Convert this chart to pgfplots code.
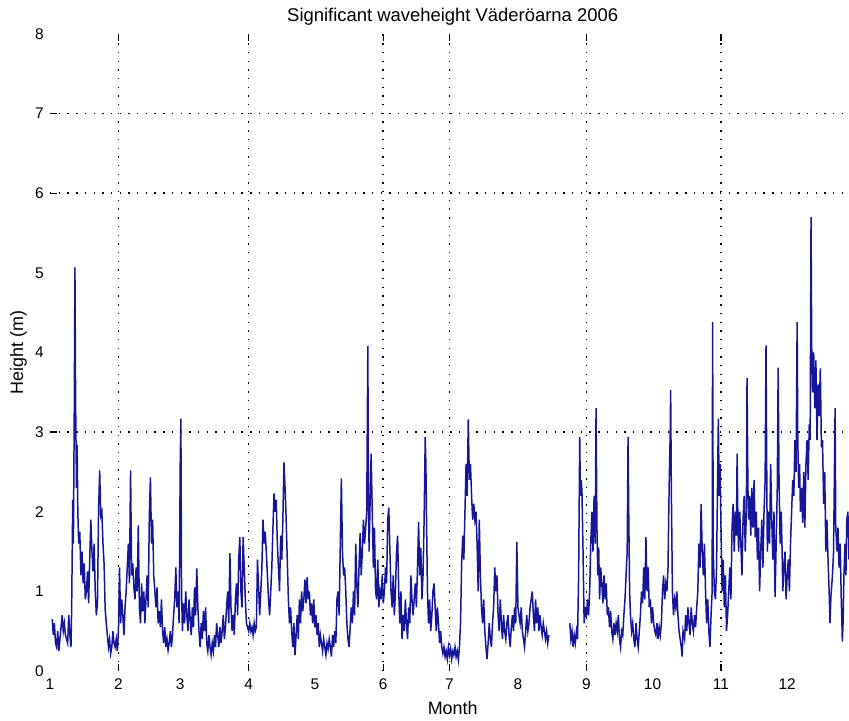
\documentclass[border=0pt]{standalone}
\usepackage{fontspec}
\setmainfont{Liberation Sans}
\usepackage{pgfplots}
\pgfplotsset{compat=1.18}
\definecolor{wblue}{RGB}{22,22,155}

\begin{document}
\begin{tikzpicture}
\begin{axis}[
    scale only axis,
    width=799bp, height=637bp,
    xmin=0, xmax=362, ymin=0, ymax=8,
    separate axis lines,
    axis line style={draw=none},
    xtick={0,31,59,90,120,151,181,212,243,273,304,334},
    xticklabels={1,2,3,4,5,6,7,8,9,10,11,12},
    ytick={0,1,2,3,4,5,6,7,8},
    major tick length=0pt,
    extra x ticks={31,90,151,181,243,304},
    extra x tick labels={},
    extra y ticks={3,6,7},
    extra y tick labels={},
    extra tick style={grid=major, major tick length=7bp, tick style={black, line width=1.3bp}},
    ytick pos=left,
    grid style={black, line width=1.6bp, dash pattern=on 1.4bp off 7.3bp},
    /pgf/number format/assume math mode=true,
    tick label style={font=\fontsize{15.5}{18}\selectfont, inner sep=0pt},
    xticklabel style={yshift=-8bp},
    yticklabel style={xshift=-6bp},
    xlabel={Month},
    ylabel={Height (m)},
    label style={font=\fontsize{18}{21}\selectfont, inner sep=0pt},
    xlabel style={at={(axis description cs:0.504,0)}, anchor=north, yshift=-30bp},
    ylabel style={at={(axis description cs:-0.0288,0.5)}, anchor=south},
    title={Significant waveheight Väderöarna 2006},
    title style={font=\fontsize{18.5}{21}\selectfont, inner sep=0pt, at={(axis description cs:0.504,1)}, anchor=south, yshift=2bp},
]
\addplot[color=wblue, line width=1.5pt, unbounded coords=jump] coordinates {
(1,0.65)(1.5,0.45)(2,0.6)(2.5,0.35)(3,0.3)(3.5,0.5)(4,0.25)(4.5,0.4)(5,0.55)(5.5,0.7)(6,0.5)(6.5,0.6)(7,0.45)(7.5,0.4)(8,0.35)(8.5,0.7)(9,0.45)(9.5,0.3)(9.8,0.77)(10,1.3)(10.3,2.15)(10.6,1.6)(11,3.3)(11.3,5.07)(11.6,3.4)(12,2.3)(12.3,2.84)(12.6,2.0)(13,1.6)(13.5,1.75)(14,1.2)(14.5,1.5)(15,1.1)(15.5,1.35)(16,0.9)(16.5,1.0)(17,1.25)(17.5,0.85)(18,1.4)(18.5,1.9)(19,1.5)(19.5,1.25)(20,1.6)(20.5,1.0)(21,0.7)(21.5,0.85)(22,2.0)(22.5,2.52)(23,1.95)(23.5,2.0)(24,1.6)(24.5,1.35)(25,0.77)(25.5,0.6)(26,0.45)(26.5,0.3)(27,0.4)(27.5,0.22)(28,0.3)(28.5,0.5)(29,0.35)(29.5,0.3)(30,0.4)(30.5,0.25)(31,0.5)
(31.5,1.3)(32,0.6)(32.5,0.9)(33,0.7)(33.5,0.45)(34,0.8)(34.5,1.0)(35,1.3)(35.5,1.6)(36,1.1)(36.5,2.52)(37,1.2)(37.5,1.35)(38,1.05)(38.5,0.9)(39,1.3)(39.5,1.0)(40,1.83)(40.5,0.8)(41,0.6)(41.5,1.1)(42,0.75)(42.5,1.0)(43,0.6)(43.5,0.9)(44,1.2)(44.5,0.8)(45,1.95)(45.5,2.43)(46,1.6)(46.5,1.9)(47,1.2)(47.5,1.0)(48,0.8)(48.5,1.05)(49,0.6)(49.5,0.75)(50,0.55)(50.5,0.9)(51,0.5)(51.5,0.35)(52,0.55)(52.5,0.3)(53,0.4)(53.5,0.26)(54,0.35)(54.5,0.5)(55,0.3)(55.5,0.45)(56,0.7)(56.5,0.9)(57,1.3)(57.5,0.8)(58,1.0)(58.5,0.6)(59,2.6)(59.3,3.17)(59.6,1.0)
(60,0.5)(60.5,0.85)(61,0.6)(61.5,1.0)(62,0.7)(62.5,0.5)(63,0.9)(63.5,0.65)(64,0.45)(64.5,0.8)(65,0.55)(65.5,1.05)(66,0.7)(66.5,1.29)(67,0.8)(67.5,0.5)(68,0.3)(68.5,0.6)(69,0.4)(69.5,0.75)(70,0.5)(70.5,0.8)(71,0.35)(71.5,0.25)(72,0.45)(72.5,0.3)(73,0.2)(73.5,0.35)(74,0.25)(74.5,0.45)(75,0.3)(75.5,0.6)(76,0.45)(76.5,0.3)(77,0.55)(77.5,0.35)(78,0.5)(78.5,0.7)(79,0.4)(79.5,0.55)(80,0.8)(80.5,1.0)(81,0.6)(81.5,1.48)(82,0.8)(82.5,0.5)(83,0.7)(83.5,0.45)(84,0.9)(84.5,1.1)(85,0.7)(85.5,1.4)(86,1.68)(86.5,1.0)(87,0.8)(87.5,1.68)(88,1.3)(88.5,0.9)(89,0.6)(89.5,0.55)(90,0.5)
(90.5,0.6)(91,0.5)(91.5,0.55)(92,0.45)(92.5,0.6)(93,0.5)(93.5,0.55)(94,1.4)(94.5,1.05)(95,0.7)(95.5,1.0)(96,1.3)(96.5,1.9)(97,1.6)(97.5,1.75)(98,1.5)(98.5,1.2)(99,0.9)(99.5,0.7)(100,1.0)(100.5,1.3)(101,1.8)(101.5,2.23)(102,2.0)(102.5,2.15)(103,1.6)(103.5,1.3)(104,1.0)(104.5,1.7)(105,1.4)(105.5,1.9)(106,2.62)(106.5,2.3)(107,1.9)(107.5,1.4)(108,0.9)(108.5,0.6)(109,0.8)(109.5,0.5)(110,0.3)(110.5,0.6)(111,0.2)(111.5,0.45)(112,0.7)(112.5,0.4)(113,0.9)(113.5,0.6)(114,1.0)(114.5,0.75)(115,0.9)(115.5,1.15)(116,0.85)(116.5,1.18)(117,0.9)(117.5,1.0)(118,0.7)(118.5,0.85)(119,0.6)(119.5,0.9)(120,0.55)
(120.5,0.7)(121,0.45)(121.5,0.6)(122,0.3)(122.5,0.45)(123,0.35)(123.5,0.25)(124,0.4)(124.5,0.3)(125,0.2)(125.5,0.35)(126,0.28)(126.5,0.4)(127,0.3)(127.5,0.18)(128,0.45)(128.5,0.3)(129,0.5)(129.5,0.35)(130,0.9)(130.5,1.0)(131,0.7)(131.5,1.55)(132,2.42)(132.5,1.5)(133,1.2)(133.5,1.3)(134,1.0)(134.5,0.6)(135,0.4)(135.5,0.3)(136,0.55)(136.5,0.8)(137,0.6)(137.5,1.0)(138,0.7)(138.5,1.6)(139,1.1)(139.5,0.8)(140,1.3)(140.5,1.73)(141,1.2)(141.5,1.5)(142,1.9)(142.5,1.6)(143,1.8)(143.5,2.0)(144,4.08)(144.3,2.0)(144.6,1.5)(145,2.1)(145.5,2.73)(146,2.0)(146.5,1.3)(147,1.8)(147.5,1.0)(148,0.9)(148.5,1.4)(149,0.8)(149.5,1.0)(150,0.9)(150.5,1.2)(151,0.85)
(151.5,1.0)(152,1.3)(152.5,1.1)(153,1.9)(153.5,2.05)(154,1.5)(154.5,1.0)(155,0.8)(155.5,1.2)(156,0.7)(156.5,1.0)(157,1.5)(157.5,1.7)(158,1.0)(158.5,0.6)(159,1.0)(159.5,0.4)(160,0.7)(160.5,0.5)(161,0.9)(161.5,0.6)(162,0.4)(162.5,0.8)(163,0.6)(163.5,1.2)(164,0.9)(164.5,0.7)(165,0.9)(165.5,1.1)(166,0.8)(166.5,1.3)(167,1.87)(167.5,1.2)(168,1.55)(168.5,0.9)(169,1.2)(169.5,1.9)(170,2.94)(170.3,2.6)(170.6,1.9)(171,1.0)(171.5,0.6)(172,0.9)(172.5,0.5)(173,0.7)(173.5,1.0)(174,1.1)(174.5,0.8)(175,0.5)(175.5,0.8)(176,0.6)(176.5,0.35)(177,0.5)(177.5,0.3)(178,0.22)(178.5,0.3)(179,0.18)(179.5,0.25)(180,0.15)(180.5,0.3)(181,0.2)
(181.5,0.28)(182,0.15)(182.5,0.25)(183,0.2)(183.5,0.3)(184,0.18)(184.5,0.25)(185,0.14)(185.5,0.3)(186,0.6)(186.5,1.35)(187,1.7)(187.5,1.4)(188,2.0)(188.5,2.6)(189,2.2)(189.5,3.16)(190,2.4)(190.5,2.6)(191,2.2)(191.5,1.9)(192,2.1)(192.5,1.9)(193,2.0)(193.5,1.6)(194,1.0)(194.5,1.9)(195,1.2)(195.5,0.8)(196,0.6)(196.5,0.9)(197,0.5)(197.5,0.3)(198,0.15)(198.5,0.35)(199,0.6)(199.5,0.4)(200,0.3)(200.5,0.6)(201,0.8)(201.5,1.3)(202,1.0)(202.5,1.2)(203,0.7)(203.5,0.5)(204,0.9)(204.5,0.6)(205,0.4)(205.5,0.7)(206,0.5)(206.5,0.4)(207,0.6)(207.5,0.7)(208,0.45)(208.5,0.3)(209,0.55)(209.5,0.7)(210,0.5)(210.5,0.8)(211,0.6)(211.5,1.62)(212,0.8)
(212.5,0.7)(213,0.6)(213.5,0.8)(214,0.5)(214.5,0.4)(215,0.3)(215.5,0.5)(216,0.7)(216.5,0.5)(217,0.6)(217.5,0.8)(218,0.9)(218.5,1.0)(219,0.7)(219.5,0.5)(220,0.9)(220.5,0.6)(221,0.8)(221.5,0.5)(222,0.7)(222.5,0.55)(223,0.45)(223.5,0.6)(224,0.5)(224.5,0.4)(225,0.5)(225.5,0.35)(226,0.45)(226.5,nan)
(235.5,0.6)(236,0.4)(236.5,0.5)(237,0.3)(237.5,0.45)(238,0.35)(238.5,0.5)(239,0.4)(239.5,1.2)(240,2.94)(240.3,2.2)(240.6,2.4)(241,2.27)(241.5,1.5)(242,0.6)(242.5,0.8)(243,0.68)
(243.5,0.9)(244,0.7)(244.5,1.0)(245,1.6)(245.5,2.0)(246,1.5)(246.5,2.2)(247,1.6)(247.4,3.3)(247.8,1.8)(248.2,1.2)(248.6,1.55)(249,0.9)(249.5,1.3)(250,1.1)(250.5,0.85)(251,1.2)(251.5,0.9)(252,1.1)(252.5,0.7)(253,0.8)(253.5,0.55)(254,0.75)(254.5,0.5)(255,0.4)(255.5,0.6)(256,0.45)(256.5,0.6)(257,0.5)(257.5,0.7)(258,0.4)(258.5,0.3)(259,0.5)(259.5,0.45)(260,0.7)(260.5,0.9)(261,1.2)(261.5,1.5)(261.9,2.94)(262.2,2.0)(262.6,1.0)(263,0.7)(263.5,0.5)(264,0.6)(264.5,0.4)(265,0.3)(265.5,0.6)(266,0.4)(266.5,0.3)(267,0.5)(267.5,0.7)(268,1.0)(268.5,0.85)(269,1.3)(269.5,0.9)(270,1.68)(270.5,1.0)(271,1.3)(271.5,0.8)(272,0.9)(272.5,0.6)(273,0.8)
(273.5,0.6)(274,0.5)(274.5,0.45)(275,0.6)(275.5,0.4)(276,0.55)(276.5,0.45)(277,0.6)(277.5,1.0)(278,1.2)(278.5,0.9)(279,1.1)(279.5,1.0)(280,1.3)(280.5,2.3)(281,3.0)(281.2,3.53)(281.5,2.3)(282,1.0)(282.5,0.7)(283,0.9)(283.5,0.8)(284,1.0)(284.5,0.7)(285,0.5)(285.5,0.4)(286,0.3)(286.4,0.18)(286.8,0.5)(287.5,0.4)(288,0.7)(288.5,0.5)(289,0.8)(289.5,0.6)(290,0.45)(290.5,0.8)(291,0.6)(291.5,0.5)(292,0.7)(292.5,0.55)(293,0.8)(293.5,1.0)(294,1.6)(294.5,1.3)(295,2.1)(295.5,1.5)(296,1.2)(296.5,1.6)(297,1.0)(297.5,0.6)(298,0.9)(298.5,0.5)(299,0.3)(299.5,0.7)(300,1.0)(300.2,4.38)(300.5,1.5)(301,1.0)(301.5,0.9)(302,1.3)(302.5,2.5)(302.8,3.17)(303.2,2.2)(303.6,2.6)(304,1.8)
(304.5,1.0)(305,1.4)(305.5,0.8)(306,1.2)(306.5,0.5)(307,0.7)(307.5,1.0)(308,1.3)(308.5,0.9)(309,1.8)(309.5,2.1)(310,1.5)(310.5,2.0)(311,1.7)(311.3,2.73)(311.7,1.8)(312,1.5)(312.5,2.0)(313,1.6)(313.5,1.2)(314,1.9)(314.5,2.2)(315,1.5)(315.5,2.0)(315.8,3.68)(316.2,2.3)(316.6,1.9)(317,2.2)(317.5,1.7)(318,2.3)(318.5,1.8)(319,2.4)(319.5,1.68)(320,2.0)(320.5,1.4)(321,1.8)(321.5,1.0)(322,1.5)(322.5,1.9)(323,1.3)(323.5,2.0)(324,2.4)(324.4,4.09)(324.8,2.2)(325,1.5)(325.5,2.0)(326,1.6)(326.5,2.6)(327,1.9)(327.5,1.4)(328,2.0)(328.5,0.93)(329,1.6)(329.5,2.3)(329.9,3.81)(330.3,2.4)(330.8,1.6)(331.3,2.0)(331.7,1.5)(332,1.0)(332.5,1.3)(333,1.5)(333.5,0.9)(334,1.2)
(334.5,1.4)(335,1.0)(335.5,1.6)(336,2.0)(336.5,2.4)(337,2.2)(337.5,2.9)(338,2.5)(338.5,4.38)(338.8,2.9)(339.2,2.3)(339.6,2.6)(340,2.0)(340.5,2.3)(341,1.86)(341.5,2.5)(342,1.8)(342.5,2.6)(343,2.9)(343.5,2.4)(344,3.1)(344.4,2.9)(344.8,5.70)(345.1,4.07)(345.5,3.5)(346,4.0)(346.5,3.3)(347,3.9)(347.5,2.9)(348,3.6)(348.5,3.2)(349,3.8)(349.5,2.81)(350,2.9)(350.5,2.1)(351,2.5)(351.5,1.5)(352,1.9)(352.5,1.4)(353,1.0)(353.4,0.6)(353.8,0.93)(354.5,1.2)(355,1.5)(355.7,3.3)(356,1.8)(356.6,1.5)(357,1.8)(357.5,1.3)(358,1.6)(358.5,0.9)(359,0.37)(359.3,0.6)(359.7,1.2)(360.2,1.6)(360.6,1.2)(361,1.9)(361.5,2.0)(362,1.4)
};
\end{axis}
\pgfresetboundingbox
\path (-50bp,-50bp) rectangle (799bp,671bp);
\end{tikzpicture}
\end{document}
